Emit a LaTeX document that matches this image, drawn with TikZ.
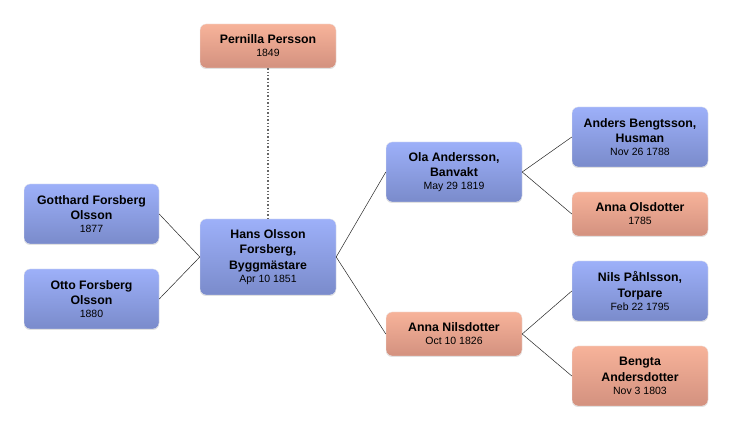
\documentclass[tikz,border=0pt]{standalone}
\usepackage{fontspec}
\setmainfont{Liberation Sans}
\usetikzlibrary{shadows}
\definecolor{maletop}{HTML}{9DB0F9}
\definecolor{malebot}{HTML}{7A8BCB}
\definecolor{femtop}{HTML}{F7B39A}
\definecolor{fembot}{HTML}{D3917F}
\tikzset{
  person/.style={rounded corners=6pt, minimum width=136pt, inner sep=2pt,
    align=center, font=\fontsize{12.3}{15.5}\selectfont\bfseries,
    draw=white!85!gray, line width=0.4pt,
    drop shadow={shadow xshift=0pt, shadow yshift=-1pt, opacity=0.25, fill=gray}},
  male/.style={person, top color=maletop, bottom color=malebot},
  female/.style={person, top color=femtop, bottom color=fembot},
  kin/.style={black!85, line width=0.5pt},
  spouse/.style={gray!80!black, dotted, line width=1.4pt}
}
\newcommand{\born}[1]{\\[-2.5pt]{\fontsize{10.5}{12}\selectfont\mdseries #1}}
\begin{document}
\begin{tikzpicture}[x=1pt,y=1pt]
  \useasboundingbox (0,0) rectangle (732,430);

  % spouse
  \node[female, minimum height=44pt] (pernilla) at (268,384) {Pernilla Persson\born{1849}};

  % children
  \node[male, minimum height=60pt, minimum width=135pt] (gotthard) at (91.5,216) {Gotthard Forsberg\\Olsson\born{1877}};
  \node[male, minimum height=60pt, minimum width=135pt] (otto) at (91.5,131) {Otto Forsberg\\Olsson\born{1880}};

  % root person
  \node[male, minimum height=76pt] (hans) at (268,173) {Hans Olsson\\Forsberg,\\Byggmästare\born{Apr 10 1851}};

  % parents
  \node[male, minimum height=60pt] (ola) at (454,258) {Ola Andersson,\\Banvakt\born{May 29 1819}};
  \node[female, minimum height=44pt] (annan) at (454,96) {Anna Nilsdotter\born{Oct 10 1826}};

  % grandparents
  \node[male, minimum height=60pt] (anders) at (640,293) {Anders Bengtsson,\\Husman\born{Nov 26 1788}};
  \node[female, minimum height=44pt] (annao) at (640,216) {Anna Olsdotter\born{1785}};
  \node[male, minimum height=60pt] (nils) at (640,139) {Nils Påhlsson,\\Torpare\born{Feb 22 1795}};
  \node[female, minimum height=60pt] (bengta) at (640,54) {Bengta\\Andersdotter\born{Nov 3 1803}};

  % connectors
  \draw[spouse] (pernilla.south) -- (hans.north);
  \draw[kin] (gotthard.east) -- (hans.west) -- (otto.east);
  \draw[kin] (ola.west) -- (hans.east) -- (annan.west);
  \draw[kin] (anders.west) -- (ola.east) -- (annao.west);
  \draw[kin] (nils.west) -- (annan.east) -- (bengta.west);
\end{tikzpicture}
\end{document}
